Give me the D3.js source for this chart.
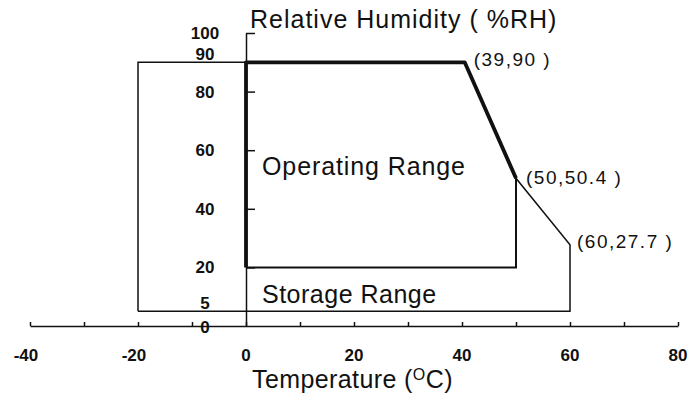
<!DOCTYPE html>
<html lang="en">
<head>
<meta charset="UTF-8"/>
<title>Operating and Storage Range</title>
<script src="https://d3js.org/d3.v7.min.js"></script>
<style>
  body { margin: 0; background: #fff; }
  text { font-family: "Liberation Sans", Arial, sans-serif; fill: #111; }
</style>
</head>
<body>
<script>
    // chart values
    var xTickValues = [-40, -30, -20, -10, 0, 10, 20, 30, 40, 50, 60, 70, 80];
    var xTickLabels = [-40, -20, 0, 20, 40, 60, 80];
    var yTickValues = [20, 40, 60, 80, 100];
    var yTickLabels = [100, 90, 80, 60, 40, 20, 5, 0];

    // operating range outline (temperature, humidity)
    var opTemp = [0, 0, 40.5, 50, 50, 0];
    var opRH   = [20, 90, 90, 50.4, 20, 20];

    // storage range outline
    var stTemp = [-20, -20, 40.5, 50, 60, 60, -20];
    var stRH   = [5, 90, 90, 50.4, 27.7, 5, 5];

    // corner labels
    var cornerTemp = [40.5, 50, 60];
    var cornerRH = [90, 50.4, 27.7];
    var cornerText = ["(39,90 )", "(50,50.4 )", "(60,27.7 )"];

    var w = 690, h = 401;

    var x = d3.scaleLinear().domain([-40, 80]).range([30, 678]);
    var y = d3.scaleLinear().domain([0, 100]).range([326, 33]);

    var svg = d3.select("body").append("svg")
        .attr("width", w)
        .attr("height", h);

    var line = d3.line()
        .x(function (d) { return x(d[0]); })
        .y(function (d) { return y(d[1]); });

    //storage range (thin)
    var storage = stTemp.map(function (t, i) { return [t, stRH[i]]; });
    svg.append("path")
        .attr("d", line(storage))
        .attr("fill", "none")
        .attr("stroke", "#111")
        .attr("stroke-width", 1.5);

    //operating range: thin right / bottom edges
    var op = opTemp.map(function (t, i) { return [t, opRH[i]]; });
    svg.append("path")
        .attr("d", line(op.slice(3)))
        .attr("fill", "none")
        .attr("stroke", "#111")
        .attr("stroke-width", 2);

    //x axis, ticks pointing up
    var xAxis = d3.axisTop(x)
        .tickValues(xTickValues)
        .tickSize(4)
        .tickSizeOuter(0)
        .tickFormat("");
    var gx = svg.append("g")
        .attr("transform", "translate(0," + y(0) + ")")
        .call(xAxis);
    gx.selectAll("path, line").attr("stroke", "#111").attr("stroke-width", 1.5);

    svg.selectAll(".xlab")
        .data(xTickLabels)
        .enter()
        .append("text")
        .attr("class", "xlab")
        .attr("x", function (d) { return x(d) - (d < 0 ? 4 : 0); })
        .attr("y", 361)
        .attr("text-anchor", "middle")
        .attr("font-size", "17px")
        .attr("font-weight", "bold")
        .text(function (d) { return d < 0 ? "-" + Math.abs(d) : d; });

    //y axis at 0 degrees
    var yAxis = d3.axisRight(y)
        .tickValues(yTickValues)
        .tickSize(9)
        .tickSizeOuter(0)
        .tickFormat("");
    var gy = svg.append("g")
        .attr("transform", "translate(" + x(0) + ",0)")
        .call(yAxis);
    gy.selectAll("path, line").attr("stroke", "#111").attr("stroke-width", 1.5);

    svg.selectAll(".ylab")
        .data(yTickLabels)
        .enter()
        .append("text")
        .attr("class", "ylab")
        .attr("x", 205)
        .attr("y", function (d) {
            if (d === 90 || d === 5) return y(d) - 2;
            if (d === 0) return y(d) + 7;
            return y(d) + 6;
        })
        .attr("text-anchor", "middle")
        .attr("font-size", "17px")
        .attr("font-weight", "bold")
        .text(function (d) { return d; });

    //operating range: thick left / top / slope edges
    svg.append("path")
        .attr("d", line(op.slice(0, 4)))
        .attr("fill", "none")
        .attr("stroke", "#111")
        .attr("stroke-width", 3.8)
        .attr("stroke-linejoin", "round");

    //corner labels
    svg.selectAll(".corner")
        .data(cornerText)
        .enter()
        .append("text")
        .attr("class", "corner")
        .attr("x", function (d, i) { return x(cornerTemp[i]) + [9, 10, 7][i]; })
        .attr("y", function (d, i) { return y(cornerRH[i]) + [4, 6, 3][i]; })
        .attr("font-size", "19px")
        .attr("letter-spacing", "1.5px")
        .text(function (d) { return d; });

    //area labels
    svg.append("text")
        .attr("x", 262).attr("y", 175)
        .attr("font-size", "25px")
        .attr("letter-spacing", "0.9px")
        .text("Operating Range");

    svg.append("text")
        .attr("x", 262).attr("y", 303)
        .attr("font-size", "25px")
        .attr("letter-spacing", "0.5px")
        .text("Storage Range");

    //axis titles
    svg.append("text")
        .attr("x", 250).attr("y", 28)
        .attr("font-size", "25px")
        .attr("letter-spacing", "1px")
        .text("Relative Humidity ( %RH)");

    var xt = svg.append("text")
        .attr("x", 252).attr("y", 388)
        .attr("font-size", "25px")
        .attr("letter-spacing", "0.4px");
    xt.append("tspan").text("Temperature (");
    xt.append("tspan").attr("font-size", "16px").attr("dy", -8).text("O");
    xt.append("tspan").attr("dy", 8).text("C)");
</script>
</body>
</html>
